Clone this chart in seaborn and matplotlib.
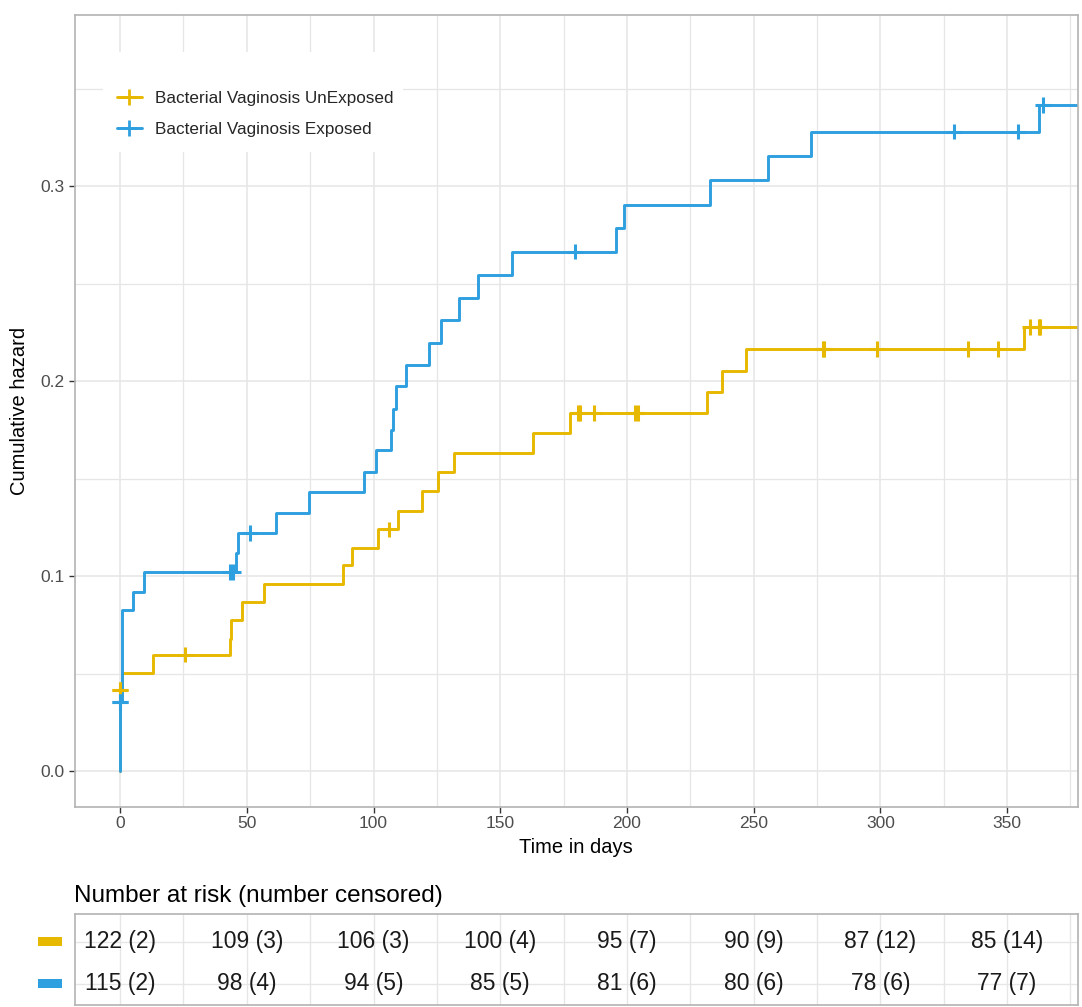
import numpy as np
import pandas as pd
import matplotlib
matplotlib.use('Agg')
import matplotlib.pyplot as plt
import matplotlib.transforms as mtransforms
from matplotlib.lines import Line2D
from matplotlib.patches import Rectangle
from matplotlib.ticker import MultipleLocator
import seaborn as sns

sns.set_theme(style='white')
plt.rcParams['font.family'] = ['Liberation Sans', 'DejaVu Sans']

# ── Data ──────────────────────────────────────────────────────────────────────

groups = ['Bacterial Vaginosis UnExposed', 'Bacterial Vaginosis Exposed']
colors = ['#E7B800', '#2E9FDF']

unexp_time = [0, 0, 0.7, 12.9, 43.2, 43.6, 48.0, 56.8, 87.9, 91.7, 101.6, 109.6,
              119.1, 125.4, 131.6, 162.8, 177.4, 231.6, 237.7, 247.0, 356.6, 380]
unexp_haz = [0, 0.0414, 0.0505, 0.0598, 0.0680, 0.0774, 0.0868, 0.0962, 0.1055, 0.1147,
             0.1240, 0.1335, 0.1436, 0.1536, 0.1630, 0.1736, 0.1839, 0.1947, 0.2054,
             0.2166, 0.2280, 0.2280]

exp_time = [0, 0, 0.7, 4.9, 9.6, 45.8, 46.7, 61.6, 74.7, 96.1, 101.1, 106.9, 107.5,
            108.8, 112.9, 121.7, 126.7, 133.8, 141.1, 154.6, 195.5, 199.0, 232.9,
            255.8, 272.7, 362.5, 380]
exp_haz = [0, 0.0353, 0.0826, 0.0920, 0.1020, 0.1120, 0.1220, 0.1325, 0.1430, 0.1535,
           0.1646, 0.1750, 0.1860, 0.1975, 0.2084, 0.2198, 0.2315, 0.2430, 0.2546,
           0.2666, 0.2786, 0.2905, 0.3034, 0.3157, 0.3282, 0.3420, 0.3420]

unexp_cens = [0, 0, 25.8, 106.3, 180.5, 181.6, 187.2, 203.3, 204.2, 277.4, 277.9,
              298.5, 334.5, 346.6, 359.0, 362.5, 363.2]
exp_cens = [0, 0, 43.2, 44.5, 51.3, 179.4, 329.2, 354.4, 364.3]

risk_times = [0, 50, 100, 150, 200, 250, 300, 350]
unexp_at_risk = [122, 109, 106, 100, 95, 90, 87, 85]
unexp_censored = [2, 3, 3, 4, 7, 9, 12, 14]
exp_at_risk = [115, 98, 94, 85, 81, 80, 78, 77]
exp_censored = [2, 4, 5, 5, 6, 6, 6, 7]


# ── Build frames ──────────────────────────────────────────────────────────────

curves = pd.concat([
    pd.DataFrame({'time': unexp_time, 'hazard': unexp_haz, 'group': groups[0]}),
    pd.DataFrame({'time': exp_time, 'hazard': exp_haz, 'group': groups[1]}),
], ignore_index=True)

def censor_points(times, steps_t, steps_h):
    idx = np.searchsorted(steps_t, times, side='right') - 1
    return np.asarray(steps_h)[idx]

censors = pd.concat([
    pd.DataFrame({'time': unexp_cens, 'hazard': censor_points(unexp_cens, unexp_time, unexp_haz),
                  'group': groups[0]}),
    pd.DataFrame({'time': exp_cens, 'hazard': censor_points(exp_cens, exp_time, exp_haz),
                  'group': groups[1]}),
], ignore_index=True)

palette = dict(zip(groups, colors))


# ── Figure layout ─────────────────────────────────────────────────────────────

W, H = 1082, 1007
fig = plt.figure(figsize=(W / 100, H / 100), dpi=100)

def px_axes(left, top, right, bottom):
    return fig.add_axes([left / W, 1 - bottom / H, (right - left) / W, (bottom - top) / H])

ax = px_axes(74.5, 15, 1078, 806.7)
ax_tab = px_axes(74.5, 914, 1078, 1005)

grid_col = '#e6e6e6'
border_col = '#b3b3b3'


# ── Main plot ─────────────────────────────────────────────────────────────────

sns.lineplot(data=curves, x='time', y='hazard', hue='group', palette=palette,
             estimator=None, sort=False, drawstyle='steps-post', linewidth=2.1,
             legend=False, ax=ax)
sns.scatterplot(data=censors, x='time', y='hazard', hue='group', palette=palette,
                marker='+', s=130, linewidth=2.2, legend=False, ax=ax, zorder=3)

ax.set_xlim(-18, 378)
ax.set_ylim(-0.0183, 0.388)
ax.xaxis.set_major_locator(MultipleLocator(50))
ax.xaxis.set_minor_locator(MultipleLocator(25))
ax.yaxis.set_major_locator(MultipleLocator(0.1))
ax.yaxis.set_minor_locator(MultipleLocator(0.05))
ax.yaxis.set_major_formatter(matplotlib.ticker.FormatStrFormatter('%.1f'))
ax.grid(which='major', color=grid_col, linewidth=1.1)
ax.grid(which='minor', color=grid_col, linewidth=0.9)
ax.set_axisbelow(True)
for s in ax.spines.values():
    s.set_color(border_col)
    s.set_linewidth(1.2)
ax.tick_params(which='major', direction='out', length=4, width=1, color='#333333',
               labelsize=12.5, labelcolor='#4d4d4d', pad=3, left=True, bottom=True)
ax.tick_params(which='minor', length=0)
ax.set_xlabel('Time in days', fontsize=14.5, color='black', labelpad=5)
ax.set_ylabel('Cumulative hazard', fontsize=14.5, color='black', labelpad=8)

# legend with white background
fig.add_artist(Rectangle((103 / W, 1 - 152 / H), 300 / W, 100 / H,
                         transform=fig.transFigure, facecolor='white', edgecolor='none', zorder=1))
handles = [Line2D([], [], color=c, lw=2.1, marker='+', markersize=11, mew=2.0) for c in colors]
fig.legend(handles, groups, loc='center left', bbox_to_anchor=(117 / W, 1 - 114 / H),
           bbox_transform=fig.transFigure, frameon=False, fontsize=12.3,
           handlelength=1.45, handletextpad=0.8, labelspacing=0.95,
           borderpad=0, borderaxespad=0)


# ── Risk table ────────────────────────────────────────────────────────────────

ax_tab.set_xlim(ax.get_xlim())
ax_tab.set_ylim(0.498, 2.654)
ax_tab.xaxis.set_major_locator(MultipleLocator(50))
ax_tab.xaxis.set_minor_locator(MultipleLocator(25))
ax_tab.set_yticks([1, 2])
ax_tab.grid(which='both', axis='x', color=grid_col, linewidth=1.0)
ax_tab.grid(which='major', axis='y', color=grid_col, linewidth=1.0)
ax_tab.set_axisbelow(True)
ax_tab.tick_params(which='both', length=0, labelbottom=False, labelleft=False)
for s in ax_tab.spines.values():
    s.set_color(border_col)
    s.set_linewidth(1.2)

rows = [(2, unexp_at_risk, unexp_censored), (1, exp_at_risk, exp_censored)]
for (row, n_risk, n_cens), col in zip(rows, colors):
    for t, n, c in zip(risk_times, n_risk, n_cens):
        ax_tab.text(t, row, f'{n} ({c})', ha='center', va='center', fontsize=16.5,
                    color='#1a1a1a')
    trans = mtransforms.blended_transform_factory(ax_tab.transAxes, ax_tab.transData)
    ax_tab.add_patch(Rectangle((-0.0364, row - 0.11), 0.0239, 0.22, transform=trans,
                               facecolor=col, edgecolor='none', clip_on=False))

fig.text(74.5 / W, 1 - 895.6 / H, 'Number at risk (number censored)', ha='left',
         va='center', fontsize=17.5, color='black')

fig.savefig('out.png', dpi=100)
